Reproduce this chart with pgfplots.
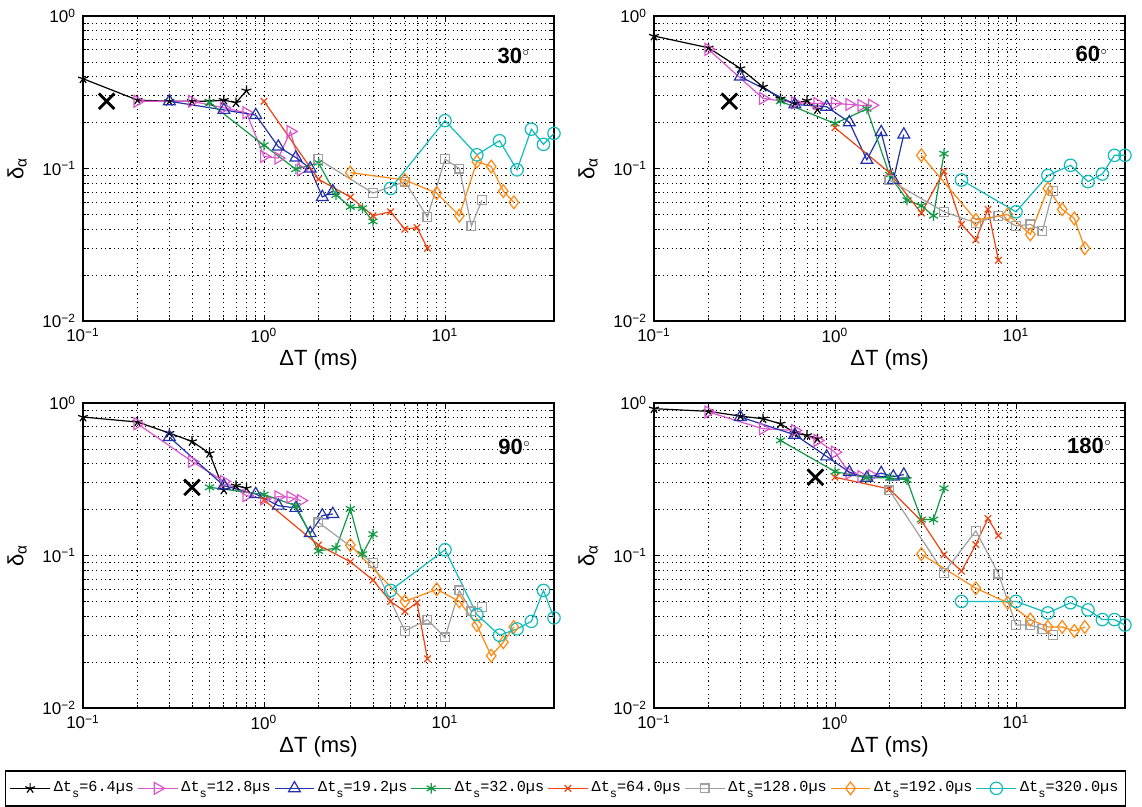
\documentclass[border=0pt]{standalone}
\usepackage{fontspec}
\setmainfont{Liberation Sans}
\newfontfamily\legfont{Liberation Mono}
\usepackage{pgfplots}
\pgfplotsset{compat=1.18}
\usepgfplotslibrary{groupplots}

\definecolor{cK}{HTML}{000000}
\definecolor{cM}{HTML}{DD55CC}
\definecolor{cB}{HTML}{2233AA}
\definecolor{cG}{HTML}{119944}
\definecolor{cR}{HTML}{EE4411}
\definecolor{cGr}{HTML}{A0A0A0}
\definecolor{cO}{HTML}{FF8811}
\definecolor{cC}{HTML}{11BBBB}

\tikzset{
  serK/.style={cK, line width=0.6pt, mark=star, mark size=2.6pt},
  serM/.style={cM, line width=0.6pt, mark=triangle, mark size=3.4pt, mark options={rotate=-90}},
  serB/.style={cB, line width=0.6pt, mark=triangle, mark size=3.4pt},
  serG/.style={cG, line width=0.6pt, mark=asterisk, mark size=2.6pt},
  serR/.style={cR, line width=0.6pt, mark=x, mark size=2.3pt},
  serGr/.style={cGr, line width=0.6pt, mark=square, mark size=2.2pt},
  serO/.style={cO, line width=0.6pt, mark=diamond, mark size=3.2pt},
  serC/.style={cC, line width=0.6pt, mark=o, mark size=3.1pt},
  bigx/.style={black, mark=x, mark size=5.5pt, line width=1.4pt},
  angtext/.style={font=\fontsize{11}{13}\selectfont\bfseries},
}
% legend text: mono, with the subscript s set low as in the original
\newcommand{\dts}[1]{Δt\raisebox{-2.6pt}{\fontsize{6}{7}\selectfont s}=#1µs}

\begin{document}
\begin{tikzpicture}
\begin{groupplot}[
    group style={group size=2 by 2, horizontal sep=50pt, vertical sep=41pt},
    xmode=log, ymode=log,
    scale only axis, width=235.5pt, height=152.5pt,
    xmin=0.1, xmax=40, ymin=0.01, ymax=1,
    xtick={0.1,1,10}, ytick={0.01,0.1,1},
    xticklabels={10\textsuperscript{−1},10\textsuperscript{0},10\textsuperscript{1}},
    yticklabels={10\textsuperscript{−2},10\textsuperscript{−1},10\textsuperscript{0}},
    tick label style={font=\fontsize{8.5}{10}\selectfont},
    label style={font=\fontsize{11}{13}\selectfont},
    xlabel={ΔT (ms)}, ylabel={δ\textsubscript{α}},
    xlabel style={yshift=3pt}, ylabel style={yshift=1pt},
    grid=both,
    major grid style={black, line width=0.35pt, dash pattern=on 0.6pt off 1.6pt},
    minor grid style={black, line width=0.35pt, dash pattern=on 0.6pt off 1.6pt},
    axis line style={line width=0.8pt},
    major tick length=3pt, minor tick length=1.5pt,
    tick style={black, line width=0.4pt},
  ]

% ---- 30 deg ----
\nextgroupplot[
  legend columns=8,
  legend style={at={(-0.166,-1.472)}, anchor=north west, draw=black,
    line width=0.8pt, inner xsep=2pt, inner ysep=3.5pt,
    nodes={inner xsep=1.6pt},
    font=\legfont\fontsize{7.6}{10}\selectfont},
  legend image code/.code={\draw[mark repeat=2, mark phase=2, #1]
    plot coordinates {(0cm,0cm) (0.35cm,0cm) (0.7cm,0cm)};}]
\addplot[serK] coordinates {(0.1,0.388)(0.2,0.281)(0.3,0.276)(0.4,0.276)(0.5,0.276)(0.6,0.281)(0.7,0.27)(0.8,0.324)};
\addlegendentry{\dts{6.4}}
\addplot[serM] coordinates {(0.2,0.276)(0.4,0.276)(0.6,0.25)(0.8,0.232)(1.0,0.12)(1.2,0.117)(1.4,0.175)(1.6,0.098)};
\addlegendentry{\dts{12.8}}
\addplot[serB] coordinates {(0.3,0.276)(0.6,0.242)(0.9,0.224)(1.2,0.139)(1.5,0.118)(1.8,0.1)(2.1,0.065)(2.4,0.071)};
\addlegendentry{\dts{19.2}}
\addplot[serG] coordinates {(0.5,0.27)(1,0.142)(1.5,0.099)(2,0.109)(2.5,0.067)(3,0.056)(3.5,0.055)(4,0.045)};
\addlegendentry{\dts{32.0}}
\addplot[serR] coordinates {(1,0.276)(2,0.085)(3,0.065)(4,0.049)(5,0.052)(6,0.04)(7,0.041)(8,0.03)};
\addlegendentry{\dts{64.0}}
\addplot[serGr] coordinates {(2,0.115)(4,0.069)(6,0.082)(8,0.048)(10,0.115)(12,0.1)(14,0.042)(16,0.062)};
\addlegendentry{\dts{128.0}}
\addplot[serO] coordinates {(3,0.094)(6,0.084)(9,0.069)(12,0.049)(15,0.111)(18,0.103)(21,0.071)(24,0.06)};
\addlegendentry{\dts{192.0}}
\addplot[serC] coordinates {(5,0.074)(10,0.206)(15,0.123)(20,0.152)(25,0.098)(30,0.181)(35,0.144)(40,0.17)};
\addlegendentry{\dts{320.0}}
\addplot[bigx, only marks, forget plot] coordinates {(0.135,0.276)};
\node[angtext] at (rel axis cs:0.915,0.87) {30\textsuperscript{\normalfont\tiny$\circ$}};

% ---- 60 deg ----
\nextgroupplot
\addplot[serK] coordinates {(0.1,0.739)(0.2,0.619)(0.3,0.453)(0.4,0.343)(0.5,0.287)(0.6,0.267)(0.7,0.279)(0.8,0.244)};
\addplot[serM] coordinates {(0.2,0.604)(0.4,0.288)(0.6,0.27)(0.8,0.267)(1,0.267)(1.2,0.263)(1.4,0.259)(1.6,0.26)};
\addplot[serB] coordinates {(0.3,0.4)(0.6,0.263)(0.9,0.254)(1.2,0.201)(1.5,0.114)(1.8,0.173)(2.1,0.084)(2.4,0.167)};
\addplot[serG] coordinates {(0.5,0.276)(1,0.197)(1.5,0.246)(2,0.091)(2.5,0.062)(3,0.057)(3.5,0.049)(4,0.125)};
\addplot[serR] coordinates {(1,0.185)(2,0.094)(3,0.051)(4,0.096)(5,0.043)(6,0.034)(7,0.054)(8,0.025)};
\addplot[serGr] coordinates {(2,0.084)(4,0.052)(6,0.044)(8,0.049)(10,0.042)(12,0.043)(14,0.039)(16,0.071)};
\addplot[serO] coordinates {(3,0.122)(6,0.046)(9,0.05)(12,0.037)(15,0.074)(18,0.054)(21,0.047)(24,0.03)};
\addplot[serC] coordinates {(5,0.084)(10,0.052)(15,0.09)(20,0.105)(25,0.082)(30,0.092)(35,0.122)(40,0.122)};
\addplot[bigx, only marks] coordinates {(0.261,0.276)};
\node[angtext] at (rel axis cs:0.93,0.874) {60\textsuperscript{\normalfont\tiny$\circ$}};

% ---- 90 deg ----
\nextgroupplot
\addplot[serK] coordinates {(0.1,0.809)(0.2,0.75)(0.3,0.635)(0.4,0.56)(0.5,0.468)(0.6,0.269)(0.7,0.287)(0.8,0.276)};
\addplot[serM] coordinates {(0.2,0.731)(0.4,0.414)(0.6,0.306)(0.8,0.247)(1,0.235)(1.2,0.243)(1.4,0.241)(1.6,0.229)};
\addplot[serB] coordinates {(0.3,0.598)(0.6,0.287)(0.9,0.253)(1.2,0.212)(1.5,0.205)(1.8,0.14)(2.1,0.183)(2.4,0.187)};
\addplot[serG] coordinates {(0.5,0.28)(1,0.251)(1.5,0.212)(2,0.107)(2.5,0.112)(3,0.202)(3.5,0.102)(4,0.138)};
\addplot[serR] coordinates {(1,0.231)(2,0.117)(3,0.091)(4,0.069)(5,0.05)(6,0.043)(7,0.049)(8,0.021)};
\addplot[serGr] coordinates {(2,0.165)(4,0.089)(6,0.032)(8,0.038)(10,0.029)(12,0.059)(14,0.043)(16,0.046)};
\addplot[serO] coordinates {(3,0.117)(6,0.05)(9,0.06)(12,0.05)(15,0.035)(18,0.022)(21,0.027)(24,0.034)};
\addplot[serC] coordinates {(5,0.059)(10,0.109)(15,0.041)(20,0.03)(25,0.033)(30,0.037)(35,0.059)(40,0.039)};
\addplot[bigx, only marks] coordinates {(0.4,0.28)};
\node[angtext] at (rel axis cs:0.917,0.857) {90\textsuperscript{\normalfont\tiny$\circ$}};

% ---- 180 deg ----
\nextgroupplot
\addplot[serK] coordinates {(0.1,0.918)(0.2,0.882)(0.3,0.82)(0.4,0.789)(0.5,0.731)(0.6,0.635)(0.7,0.613)(0.8,0.583)};
\addplot[serM] coordinates {(0.2,0.873)(0.4,0.678)(0.6,0.661)(0.8,0.568)(1,0.476)(1.2,0.347)(1.4,0.329)(1.6,0.334)};
\addplot[serB] coordinates {(0.3,0.809)(0.6,0.619)(0.9,0.446)(1.2,0.352)(1.5,0.323)(1.8,0.347)(2.1,0.329)(2.4,0.339)};
\addplot[serG] coordinates {(0.5,0.568)(1,0.355)(1.5,0.323)(2,0.323)(2.5,0.313)(3,0.172)(3.5,0.172)(4,0.276)};
\addplot[serR] coordinates {(1,0.326)(2,0.273)(3,0.169)(4,0.101)(5,0.079)(6,0.118)(7,0.175)(8,0.135)};
\addplot[serGr] coordinates {(2,0.267)(4,0.077)(6,0.145)(8,0.076)(10,0.035)(12,0.035)(14,0.033)(16,0.03)};
\addplot[serO] coordinates {(3,0.102)(6,0.061)(9,0.049)(12,0.038)(15,0.034)(18,0.034)(21,0.032)(24,0.034)};
\addplot[serC] coordinates {(5,0.05)(10,0.05)(15,0.042)(20,0.049)(25,0.044)(30,0.038)(35,0.038)(40,0.035)};
\addplot[bigx, only marks] coordinates {(0.78,0.326)};
\node[angtext] at (rel axis cs:0.925,0.86) {180\textsuperscript{\normalfont\tiny$\circ$}};
\end{groupplot}

% page is the size of the original figure
\pgfresetboundingbox
\path[use as bounding box] (group c1r1.north west) ++(-41.5pt,8pt) rectangle ++(571pt,-403.5pt);
\end{tikzpicture}
\end{document}
